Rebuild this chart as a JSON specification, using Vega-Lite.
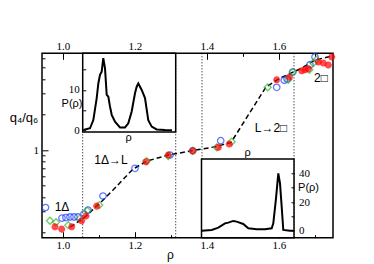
{
  "$schema": "https://vega.github.io/schema/vega-lite/v6.json",
  "width": 291,
  "height": 184.4,
  "autosize": {"type": "none"},
  "padding": {"left": 42, "top": 53.3, "right": 41, "bottom": 26.3},
  "background": "white",
  "config": {
    "view": {"stroke": "black", "strokeWidth": 1.5},
    "axis": {"domain": false, "grid": false, "tickColor": "black", "tickWidth": 1, "labelColor": "black", "labelFont": "Liberation Serif", "labelFontSize": 11, "titleFont": "Liberation Sans", "titleFontWeight": "normal", "titleColor": "black", "titleFontSize": 12}
  },
  "datasets": {
    "cuts": [{"rho": 1.0547}, {"rho": 1.3131}, {"rho": 1.3861}, {"rho": 1.6417}],
    "fit": [
      {"rho": 1.02, "q": 0.222}, {"rho": 1.0611, "q": 0.271}, {"rho": 1.1028, "q": 0.356}, {"rho": 1.1389, "q": 0.458},
      {"rho": 1.1944, "q": 0.69}, {"rho": 1.2333, "q": 0.807}, {"rho": 1.2917, "q": 0.907}, {"rho": 1.3528, "q": 0.98},
      {"rho": 1.4222, "q": 1.066}, {"rho": 1.4667, "q": 1.158}, {"rho": 1.5639, "q": 3.42}, {"rho": 1.6028, "q": 4.07},
      {"rho": 1.6583, "q": 4.86}, {"rho": 1.7, "q": 5.79}, {"rho": 1.7472, "q": 6.26}
    ],
    "pts": [
      {"rho": 0.9514, "q": 0.326, "s": "b"}, {"rho": 0.9972, "q": 0.265, "s": "b"}, {"rho": 1.0083, "q": 0.268, "s": "b"},
      {"rho": 1.0194, "q": 0.271, "s": "b"}, {"rho": 1.0306, "q": 0.271, "s": "b"}, {"rho": 1.0417, "q": 0.271, "s": "b"},
      {"rho": 1.0583, "q": 0.287, "s": "b"}, {"rho": 1.0694, "q": 0.31, "s": "b"}, {"rho": 1.1111, "q": 0.408, "s": "b"},
      {"rho": 1.2, "q": 0.7, "s": "b"}, {"rho": 1.2972, "q": 0.907, "s": "b"}, {"rho": 1.3603, "q": 0.986, "s": "b"},
      {"rho": 1.4381, "q": 1.2, "s": "b"}, {"rho": 1.5936, "q": 3.4, "s": "b"}, {"rho": 1.6147, "q": 3.9, "s": "b"},
      {"rho": 1.6222, "q": 4.0, "s": "b"}, {"rho": 1.6381, "q": 4.58, "s": "b"}, {"rho": 1.6861, "q": 5.28, "s": "b"},
      {"rho": 1.7, "q": 6.14, "s": "b"},
      {"rho": 0.9639, "q": 0.252, "s": "g"}, {"rho": 0.9806, "q": 0.245, "s": "g"}, {"rho": 1.0147, "q": 0.231, "s": "g"},
      {"rho": 1.0472, "q": 0.264, "s": "g"}, {"rho": 1.0675, "q": 0.306, "s": "g"}, {"rho": 1.1008, "q": 0.342, "s": "g"},
      {"rho": 1.2325, "q": 0.807, "s": "g"}, {"rho": 1.2925, "q": 0.89, "s": "g"}, {"rho": 1.3603, "q": 0.986, "s": "g"},
      {"rho": 1.4269, "q": 1.054, "s": "g"}, {"rho": 1.4686, "q": 1.176, "s": "g"}, {"rho": 1.5686, "q": 3.4, "s": "g"},
      {"rho": 1.6258, "q": 3.94, "s": "g"}, {"rho": 1.6381, "q": 4.58, "s": "g"}, {"rho": 1.6842, "q": 4.79, "s": "g"},
      {"rho": 1.6953, "q": 5.46, "s": "g"}, {"rho": 1.7047, "q": 5.82, "s": "g"},
      {"rho": 0.9778, "q": 0.224, "s": "r"}, {"rho": 0.9964, "q": 0.214, "s": "r"}, {"rho": 1.0242, "q": 0.224, "s": "r"},
      {"rho": 1.0519, "q": 0.252, "s": "r"}, {"rho": 1.0639, "q": 0.276, "s": "r"}, {"rho": 1.0936, "q": 0.335, "s": "r"},
      {"rho": 1.2306, "q": 0.796, "s": "r"}, {"rho": 1.2925, "q": 0.907, "s": "r"}, {"rho": 1.3603, "q": 0.986, "s": "r"},
      {"rho": 1.4314, "q": 1.054, "s": "r"}, {"rho": 1.4619, "q": 1.124, "s": "r"}, {"rho": 1.5936, "q": 3.94, "s": "r"},
      {"rho": 1.6286, "q": 4.13, "s": "r"}, {"rho": 1.6631, "q": 4.7, "s": "r"}, {"rho": 1.6722, "q": 4.79, "s": "r"},
      {"rho": 1.6814, "q": 4.89, "s": "r"}, {"rho": 1.7092, "q": 5.57, "s": "r"}, {"rho": 1.7231, "q": 5.46, "s": "r"},
      {"rho": 1.7369, "q": 5.25, "s": "r"}, {"rho": 1.7464, "q": 6.14, "s": "r"}
    ],
    "labels": [
      {"rho": 0.9972, "q": 0.329, "t": "1Δ"},
      {"rho": 1.1333, "q": 0.823, "t": "1Δ→L"},
      {"rho": 1.5778, "q": 1.536, "t": "L→2□"},
      {"rho": 1.7167, "q": 4.07, "t": "2□"}
    ],
    "p1": [
      {"rho": 1.0564, "p": 0.17}, {"rho": 1.075, "p": 0.6}, {"rho": 1.0842, "p": 2.6}, {"rho": 1.0936, "p": 8.0},
      {"rho": 1.0981, "p": 11.6}, {"rho": 1.1028, "p": 13.7}, {"rho": 1.1075, "p": 14.5}, {"rho": 1.1119, "p": 17.8},
      {"rho": 1.1167, "p": 15.3}, {"rho": 1.1214, "p": 8.8}, {"rho": 1.1258, "p": 8.4}, {"rho": 1.1306, "p": 5.9},
      {"rho": 1.1353, "p": 3.9}, {"rho": 1.1444, "p": 2.2}, {"rho": 1.1583, "p": 0.8}, {"rho": 1.1722, "p": 0.8},
      {"rho": 1.1814, "p": 1.8}, {"rho": 1.1908, "p": 4.7}, {"rho": 1.2, "p": 9.2}, {"rho": 1.2047, "p": 10.8},
      {"rho": 1.2092, "p": 11.6}, {"rho": 1.2186, "p": 10.0}, {"rho": 1.2278, "p": 8.0}, {"rho": 1.2369, "p": 2.6},
      {"rho": 1.2464, "p": 1.0}, {"rho": 1.2603, "p": 0.3}, {"rho": 1.2833, "p": 0.17}, {"rho": 1.3028, "p": 0.1}
    ],
    "p2": [
      {"rho": 1.3853, "p": 0}, {"rho": 1.4131, "p": 0.5}, {"rho": 1.4314, "p": 2.1}, {"rho": 1.45, "p": 5.1},
      {"rho": 1.4592, "p": 5.6}, {"rho": 1.4731, "p": 6.8}, {"rho": 1.4825, "p": 6.3}, {"rho": 1.5008, "p": 4.7},
      {"rho": 1.5147, "p": 1.7}, {"rho": 1.5381, "p": 1.0}, {"rho": 1.5611, "p": 1.0}, {"rho": 1.5797, "p": 1.7},
      {"rho": 1.5842, "p": 5.1}, {"rho": 1.5917, "p": 22.6}, {"rho": 1.5981, "p": 40}, {"rho": 1.6028, "p": 33},
      {"rho": 1.6075, "p": 16.7}, {"rho": 1.6119, "p": 0.5}, {"rho": 1.6306, "p": 0}, {"rho": 1.6417, "p": 0}
    ]
  },
  "layer": [
    {
      "resolve": {"axis": {"x": "independent", "y": "independent"}},
      "layer": [
        {
          "data": {"name": "cuts"},
          "mark": {"type": "rule", "color": "black", "strokeWidth": 1, "strokeDash": [1, 2]},
          "encoding": {
            "x": {"field": "rho", "type": "quantitative", "scale": {"domain": [0.9417, 1.75], "nice": false, "zero": false},
              "axis": {"orient": "bottom", "values": [1.0, 1.1, 1.2, 1.3, 1.4, 1.5, 1.6, 1.7], "labels": false, "tickSize": -3,
                "title": "ρ", "titleX": 128, "titleY": 17, "titleAlign": "center", "titleBaseline": "middle"}}
          }
        },
        {
          "data": {"name": "fit"},
          "mark": {"type": "line", "color": "black", "strokeWidth": 1.5, "strokeDash": [5, 3]},
          "encoding": {
            "x": {"field": "rho", "type": "quantitative", "scale": {"domain": [0.9417, 1.75], "nice": false, "zero": false},
              "axis": {"orient": "top", "values": [1.0, 1.1, 1.2, 1.3, 1.4, 1.5, 1.6, 1.7], "labels": false, "tickSize": -3, "title": null}},
            "y": {"field": "q", "type": "quantitative", "scale": {"type": "log", "domain": [0.181, 6.6], "nice": false, "zero": false},
              "axis": {"orient": "left", "values": [0.2, 0.3, 0.4, 0.5, 0.6, 0.7, 0.8, 0.9, 2, 3, 4, 5, 6], "labels": false, "tickSize": -3,
                "title": "q₄/q₆", "titleAngle": 0, "titleX": -18.5, "titleY": 63.7, "titleAlign": "center", "titleBaseline": "middle", "titleFontSize": 13}}
          }
        },
        {
          "data": {"name": "pts"},
          "transform": [{"filter": "datum.s == 'b'"}],
          "mark": {"type": "point", "shape": "circle", "filled": false, "stroke": "#1f3fff", "strokeWidth": 1.3, "size": 42},
          "encoding": {
            "x": {"field": "rho", "type": "quantitative", "scale": {"domain": [0.9417, 1.75], "nice": false, "zero": false},
              "axis": {"orient": "bottom", "values": [1.0, 1.2, 1.4, 1.6], "format": ".1f", "tickSize": -6, "labelPadding": 8, "title": null}},
            "y": {"field": "q", "type": "quantitative", "scale": {"type": "log", "domain": [0.181, 6.6], "nice": false, "zero": false},
              "axis": {"orient": "left", "values": [1], "format": "d", "tickSize": -6, "labelPadding": 9.5, "title": null}}
          }
        },
        {
          "data": {"name": "pts"},
          "transform": [{"filter": "datum.s == 'g'"}],
          "mark": {"type": "point", "shape": "diamond", "filled": false, "stroke": "#2db82d", "strokeWidth": 1.3, "size": 49},
          "encoding": {
            "x": {"field": "rho", "type": "quantitative", "scale": {"domain": [0.9417, 1.75], "nice": false, "zero": false},
              "axis": {"orient": "top", "values": [1.0, 1.2, 1.4, 1.6], "format": ".1f", "tickSize": -6, "labelPadding": 8, "title": null}},
            "y": {"field": "q", "type": "quantitative", "scale": {"type": "log", "domain": [0.181, 6.6], "nice": false, "zero": false}, "axis": null}
          }
        },
        {
          "data": {"name": "pts"},
          "transform": [{"filter": "datum.s == 'r'"}],
          "mark": {"type": "point", "shape": "M-1,0L1,0M0,-1L0,1M-0.7,-0.7L0.7,0.7M-0.7,0.7L0.7,-0.7", "filled": false, "stroke": "#ff0000", "strokeWidth": 2.2, "size": 50},
          "encoding": {
            "x": {"field": "rho", "type": "quantitative", "scale": {"domain": [0.9417, 1.75], "nice": false, "zero": false}, "axis": null},
            "y": {"field": "q", "type": "quantitative", "scale": {"type": "log", "domain": [0.181, 6.6], "nice": false, "zero": false}, "axis": null}
          }
        },
        {
          "data": {"name": "labels"},
          "mark": {"type": "text", "font": "Liberation Sans, DejaVu Sans", "fontSize": 12, "color": "black", "align": "center", "baseline": "middle"},
          "encoding": {
            "x": {"field": "rho", "type": "quantitative", "scale": {"domain": [0.9417, 1.75], "nice": false, "zero": false}, "axis": null},
            "y": {"field": "q", "type": "quantitative", "scale": {"type": "log", "domain": [0.181, 6.6], "nice": false, "zero": false}, "axis": null},
            "text": {"field": "t"}
          }
        }
      ]
    },
    {
      "layer": [
        {
          "data": {"values": [{}]},
          "mark": {"type": "rect", "fill": "white", "stroke": "black", "strokeWidth": 1.5},
          "encoding": {
            "x": {"datum": 1.0547, "type": "quantitative", "scale": {"domain": [1.0547, 1.3131], "range": [40.7, 133.7], "nice": false, "zero": false},
              "axis": {"orient": "bottom", "offset": -105.7, "ticks": false, "labels": false, "title": "ρ", "titleX": 86, "titleY": 5, "titleAlign": "center", "titleBaseline": "middle", "titleFontSize": 11, "zindex": 2}},
            "x2": {"datum": 1.3131},
            "y": {"datum": -0.32, "type": "quantitative", "scale": {"domain": [-0.32, 19], "range": [78.7, 0], "nice": false, "zero": false},
              "axis": {"orient": "left", "offset": -40.7, "values": [0, 5, 10, 15], "labelExpr": "datum.value == 0 || datum.value == 10 ? datum.value : ''",
                "tickSize": -3, "labelPadding": 6.5, "title": "P(ρ)", "titleAngle": 0, "titleX": -11.2, "titleY": 50, "titleAlign": "center", "titleBaseline": "middle", "titleFontSize": 11, "zindex": 2}},
            "y2": {"datum": 19}
          }
        },
        {
          "data": {"name": "p1"},
          "mark": {"type": "line", "color": "black", "strokeWidth": 2},
          "encoding": {
            "x": {"field": "rho", "type": "quantitative", "scale": {"domain": [1.0547, 1.3131], "range": [40.7, 133.7], "nice": false, "zero": false}},
            "y": {"field": "p", "type": "quantitative", "scale": {"domain": [-0.32, 19], "range": [78.7, 0], "nice": false, "zero": false}}
          }
        }
      ]
    },
    {
      "layer": [
        {
          "data": {"values": [{}]},
          "mark": {"type": "rect", "fill": "white", "stroke": "black", "strokeWidth": 1.5},
          "encoding": {
            "x": {"datum": 1.3847, "type": "quantitative", "scale": {"domain": [1.3847, 1.6417], "range": [159.5, 252], "nice": false, "zero": false},
              "axis": {"orient": "top", "offset": -105.7, "ticks": false, "labels": false, "title": "ρ", "titleX": 205, "titleY": -7, "titleAlign": "center", "titleBaseline": "middle", "titleFontSize": 11, "zindex": 2}},
            "x2": {"datum": 1.6417},
            "y": {"datum": -4.9, "type": "quantitative", "scale": {"domain": [-4.9, 50], "range": [184.4, 105.7], "nice": false, "zero": false},
              "axis": {"orient": "right", "offset": -39, "values": [0, 10, 20, 30, 40], "labelExpr": "datum.value == 10 || datum.value == 30 ? '' : datum.value",
                "tickSize": -3, "labelPadding": 7.5, "title": "P(ρ)", "titleAngle": 0, "titleX": 14, "titleY": 133.7, "titleAlign": "center", "titleBaseline": "middle", "titleFontSize": 11, "zindex": 2}},
            "y2": {"datum": 50}
          }
        },
        {
          "data": {"name": "p2"},
          "mark": {"type": "line", "color": "black", "strokeWidth": 2},
          "encoding": {
            "x": {"field": "rho", "type": "quantitative", "scale": {"domain": [1.3847, 1.6417], "range": [159.5, 252], "nice": false, "zero": false}},
            "y": {"field": "p", "type": "quantitative", "scale": {"domain": [-4.9, 50], "range": [184.4, 105.7], "nice": false, "zero": false}}
          }
        }
      ]
    }
  ],
  "resolve": {"scale": {"x": "independent", "y": "independent"}, "axis": {"x": "independent", "y": "independent"}}
}
